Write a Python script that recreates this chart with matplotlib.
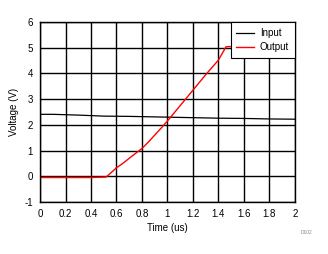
import matplotlib
matplotlib.use("Agg")
import matplotlib.pyplot as plt

plt.rcParams['font.family'] = ['Liberation Sans', 'DejaVu Sans']
plt.rcParams['axes.unicode_minus'] = False

# input trace (us, V)
t_in = [0.0, 0.1, 0.3, 0.5, 0.7, 1.0, 1.2, 1.4, 1.6, 1.8, 2.0]
v_in = [2.41, 2.41, 2.38, 2.34, 2.33, 2.30, 2.28, 2.26, 2.25, 2.23, 2.22]

# output trace (us, V)
t_out = [0.0, 0.2, 0.4, 0.52, 0.56, 0.6, 0.65, 0.7, 0.75, 0.8, 0.85, 0.9, 0.95,
         1.0, 1.1, 1.2, 1.3, 1.4, 1.46, 1.5, 1.6, 2.0]
v_out = [-0.05, -0.05, -0.05, -0.03, 0.15, 0.33, 0.50, 0.70, 0.89, 1.08, 1.33, 1.60, 1.87,
         2.15, 2.75, 3.35, 3.95, 4.52, 5.04, 5.05, 5.05, 5.05]

fig = plt.figure(figsize=(3.28, 2.54), dpi=100)
ax = fig.add_axes([0.122, 0.205, 0.777, 0.708])

ax.plot(t_in, v_in, color='black', lw=0.9, label='Input')
ax.plot(t_out, v_out, color='red', lw=1.0, label='Output')

ax.set_xlim(0, 2)
ax.set_ylim(-1, 6)
ax.set_xticks([0, 0.2, 0.4, 0.6, 0.8, 1, 1.2, 1.4, 1.6, 1.8, 2])
ax.set_xticklabels(['0', '0.2', '0.4', '0.6', '0.8', '1', '1.2', '1.4', '1.6', '1.8', '2'])
ax.set_yticks(range(-1, 7))
ax.grid(True, color='black', lw=1.0)
ax.tick_params(length=0, labelsize=7, pad=5)
for s in ax.spines.values():
    s.set_linewidth(1.0)

ax.set_xlabel('Time (us)', fontsize=7, labelpad=3)
ax.set_ylabel('Voltage (V)', fontsize=7, labelpad=4)

leg = ax.legend(loc='upper right', fontsize=7, fancybox=False, framealpha=1,
                edgecolor='black', borderaxespad=0, handlelength=1.8,
                handletextpad=0.6, borderpad=0.6, labelspacing=0.45)
leg.get_frame().set_linewidth(0.8)

fig.text(0.935, 0.08, 'D102', fontsize=3.5, color='#888888', ha='center')

fig.savefig('out.png', dpi=100)
